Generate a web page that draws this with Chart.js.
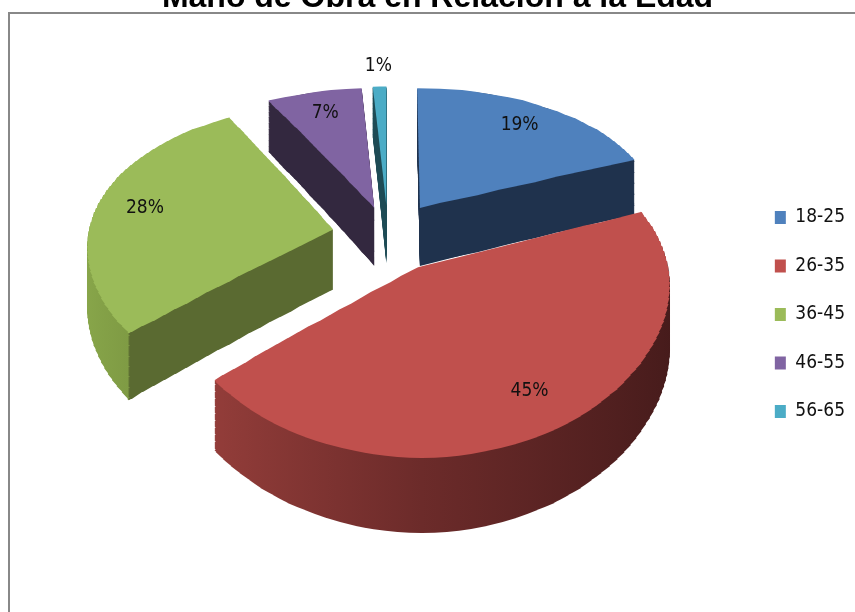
<!DOCTYPE html>
<html>
<head>
<meta charset="utf-8">
<script src="https://cdn.jsdelivr.net/npm/chart.js@4.4.1/dist/chart.umd.min.js"></script>
<style>
  html, body { margin: 0; padding: 0; background: #fff; }
  body { width: 855px; height: 612px; overflow: hidden; position: relative; }
  #frame { position: absolute; left: 8px; top: 12px; width: 900px; height: 700px;
           border: 2px solid #888; box-sizing: border-box; }
  #c { position: absolute; left: 0; top: 0; }
</style>
</head>
<body>
<div id="frame"></div>
<canvas id="c" width="855" height="612"></canvas>
<script>
// Chart text and values
const chartTitle = 'Mano de Obra en Relación a la Edad';
const ageGroups = ['18-25', '26-35', '36-45', '46-55', '56-65'];
const shares = [19, 45, 28, 7, 1];

// Appearance
const topColors = ['#4F81BD', '#C0504D', '#9BBB59', '#8064A2', '#4BACC6'];
const sideStops = [
  [[0, '#1f324d'], [1, '#1f324d']],
  [[0, '#9e423e'], [0.5, '#6c2b2a'], [1, '#461b1b']],
  [[0, '#88a64a'], [0.113, '#7f9b44'], [0.116, '#5a6a31'], [1, '#5a6a31']],
  [[0, '#33283f'], [1, '#33283f']],
  [[0, '#1e4b55'], [1, '#1e4b55']]
];
const explode = [58, 58, 56, 50, 52];   // radial gap of each slice, px
const SQUASH = 0.604;                   // vertical squash of the pie plane at its centre
const PERSP = 0.000669;                 // vertical perspective: near side taller than far side
const PERSP_X = 0.0004;                 // horizontal perspective: near side wider
const DEPTH = 60;                       // thickness of the pie at its centre, px
const labelFont = "'DejaVu Sans Condensed', 'Liberation Sans Narrow', Lato, sans-serif";

// Vertical screen offset of a plane point t px in front of the centre, s px below the top face
function rowY(t, s) {
  return (SQUASH * t + s) / (1 - PERSP * t);
}
// Horizontal magnification of the plane at t px in front of the centre
function rowScaleX(t) {
  return 1 / (1 - PERSP_X * t);
}

// Thin horizontal bands; inside each one the view is affine, so the library arcs can be reused
const bandEdges = [];
for (let t = -368; t <= 368; t += 8) bandEdges.push(t);

// Draws the pie as a tilted, exploded 3D disc using the library's own arc elements
const pie3d = {
  id: 'pie3d',
  beforeDatasetsDraw(chart) {
    const ctx = chart.ctx;
    const W = chart.width, H = chart.height;
    const arcs = chart.getDatasetMeta(0).data;
    const last = bandEdges.length - 2;
    const paint = (arc, i, fill, s) => {
      const mid = (arc.startAngle + arc.endAngle) / 2;
      const ex = Math.cos(mid) * explode[i];
      const ey = Math.sin(mid) * explode[i];
      const r = arc.outerRadius;
      const pivot = Math.round(arc.y - DEPTH);
      let bg = fill;
      for (let j = 0; j <= last; j++) {
        const t0 = bandEdges[j], t1 = bandEdges[j + 1];
        if (t1 < ey - r - 2 || t0 > ey + r + 2) continue;
        const y0 = Math.round(pivot + rowY(t0, s));
        const y1 = Math.round(pivot + rowY(t1, s));
        const k = (y1 - y0) / (t1 - t0);
        const sx = rowScaleX((t0 + t1) / 2);
        const top = j === 0 ? -H : y0;
        const bottom = j === last ? 2 * H : y1;
        ctx.save();
        ctx.beginPath();
        ctx.rect(-W, top, 3 * W, bottom - top);
        ctx.clip();
        ctx.translate(arc.x, y0);
        ctx.scale(sx, k);
        ctx.translate(-arc.x + ex, ey - arc.y - t0);
        if (Array.isArray(fill)) {
          bg = ctx.createLinearGradient(arc.x - r, 0, arc.x + r, 0);
          fill.forEach(([p, c]) => bg.addColorStop(p, c));
        }
        const face = Object.create(arc);
        face.options = Object.assign({}, arc.options, { backgroundColor: bg, borderWidth: 0, offset: 0 });
        face.draw(ctx);
        ctx.restore();
      }
    };
    arcs.forEach((arc, i) => {
      for (let s = DEPTH; s >= 1; s--) paint(arc, i, sideStops[i], s);
    });
    arcs.forEach((arc, i) => paint(arc, i, topColors[i], 0));
    return false;
  },
  afterDraw(chart) {
    const ctx = chart.ctx;
    const arcs = chart.getDatasetMeta(0).data;
    ctx.save();
    // percentage labels on the top faces
    ctx.font = '19px ' + labelFont;
    ctx.fillStyle = '#111';
    ctx.textAlign = 'center';
    ctx.textBaseline = 'middle';
    arcs.forEach((arc, i) => {
      const mid = (arc.startAngle + arc.endAngle) / 2;
      const r = explode[i] + arc.outerRadius * (shares[i] < 3 ? 1.2 : 0.8);
      const t = Math.sin(mid) * r;
      const pivot = Math.round(arc.y - DEPTH);
      ctx.fillText(shares[i] + '%', arc.x + rowScaleX(t) * Math.cos(mid) * r, pivot + rowY(t, 0));
    });
    // title
    ctx.font = "bold 32px 'Liberation Sans', Arial, sans-serif";
    ctx.fillStyle = '#000';
    ctx.textBaseline = 'alphabetic';
    ctx.fillText(chartTitle, 437.5, 7);
    ctx.restore();
  }
};

new Chart(document.getElementById('c'), {
  type: 'pie',
  data: {
    labels: ageGroups,
    datasets: [{
      data: shares,
      backgroundColor: topColors,
      borderWidth: 0,
      radius: 245,
      clip: false
    }]
  },
  options: {
    responsive: false,
    animation: false,
    events: [],
    layout: { padding: { top: 141.5, bottom: 161.5, left: 30.5, right: 0 } },
    plugins: {
      legend: {
        position: 'right',
        align: 'end',
        labels: {
          boxWidth: 11,
          boxHeight: 13,
          padding: 29.5,
          color: '#111',
          font: { family: labelFont, size: 19 }
        }
      },
      tooltip: { enabled: false }
    }
  },
  plugins: [pie3d]
});
</script>
</body>
</html>
